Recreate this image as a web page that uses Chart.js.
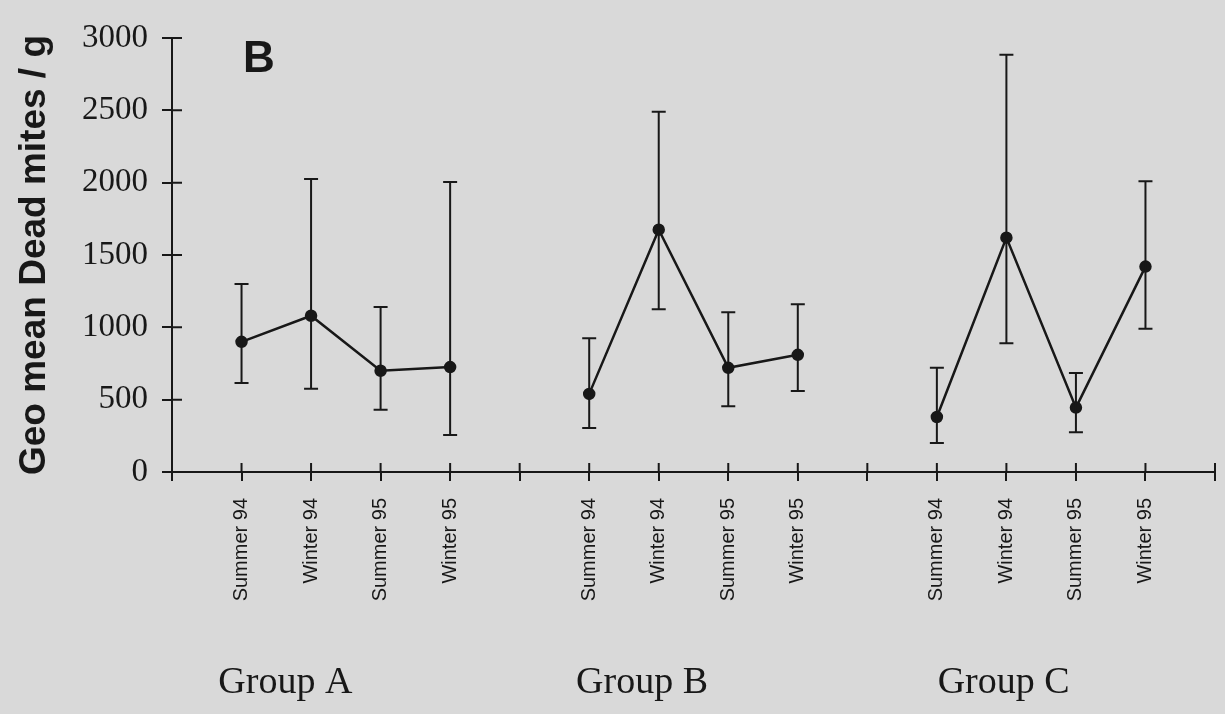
<!DOCTYPE html>
<html>
<head>
<meta charset="utf-8">
<script src="https://cdn.jsdelivr.net/npm/chart.js@4.4.0/dist/chart.umd.min.js"></script>
<style>
  html, body { margin: 0; padding: 0; background: #d9d9d9; }
  #wrap { width: 1225px; height: 714px; }
</style>
</head>
<body>
<div id="wrap"><canvas id="miteChart" width="1225" height="714"></canvas></div>
<script>
// data (geometric mean and error bar ends)
var seasons = ['Summer 94', 'Winter 94', 'Summer 95', 'Winter 95'];
var groups = ['Group A', 'Group B', 'Group C'];
var meanA = [900, 1080, 700, 725];
var lowA = [615, 575, 430, 255];
var highA = [1300, 2025, 1140, 2005];
var meanB = [540, 1675, 720, 810];
var lowB = [305, 1125, 455, 560];
var highB = [925, 2490, 1105, 1160];
var meanC = [380, 1620, 445, 1420];
var lowC = [200, 890, 275, 990];
var highC = [720, 2885, 685, 2010];
var yTicks = [0, 500, 1000, 1500, 2000, 2500, 3000];

var ink = '#181818';

// x slots: axis, 4 seasons, gap, 4 seasons, gap, 4 seasons, end
var labels = [''].concat(seasons, [''], seasons, [''], seasons, ['']);

function place(arr, start) {
    var out = [];
    for (var i = 0; i < labels.length; i++) out.push(null);
    for (var j = 0; j < arr.length; j++) out[start + j] = arr[j];
    return out;
}

var series = [
    { mean: meanA, low: lowA, high: highA, start: 1 },
    { mean: meanB, low: lowB, high: highB, start: 6 },
    { mean: meanC, low: lowC, high: highC, start: 11 }
];

var datasets = series.map(function (s, k) {
    return {
        label: groups[k],
        data: place(s.mean, s.start),
        low: place(s.low, s.start),
        high: place(s.high, s.start),
        borderColor: ink,
        backgroundColor: ink,
        borderWidth: 2.5,
        pointRadius: 5,
        pointStyle: 'circle',
        pointBackgroundColor: ink,
        pointBorderColor: ink,
        tension: 0,
        spanGaps: false
    };
});

var paperPlugin = {
    id: 'paper',
    beforeDraw: function (chart) {
        var ctx = chart.ctx;
        ctx.save();
        ctx.fillStyle = '#d9d9d9';
        ctx.fillRect(0, 0, chart.width, chart.height);
        ctx.restore();
    }
};

var errorBarPlugin = {
    id: 'errorBars',
    afterDatasetsDraw: function (chart) {
        var ctx = chart.ctx;
        var x = chart.scales.x, y = chart.scales.y;
        ctx.save();
        ctx.strokeStyle = ink;
        ctx.lineWidth = 2;
        chart.data.datasets.forEach(function (ds) {
            for (var i = 0; i < ds.data.length; i++) {
                if (ds.data[i] === null) continue;
                var px = x.getPixelForValue(i);
                var top = y.getPixelForValue(ds.high[i]);
                var bot = y.getPixelForValue(ds.low[i]);
                ctx.beginPath();
                ctx.moveTo(px, top); ctx.lineTo(px, bot);
                ctx.moveTo(px - 7, top); ctx.lineTo(px + 7, top);
                ctx.moveTo(px - 7, bot); ctx.lineTo(px + 7, bot);
                ctx.stroke();
            }
        });
        ctx.restore();
    }
};

var decorPlugin = {
    id: 'decor',
    afterDraw: function (chart) {
        var ctx = chart.ctx;
        var x = chart.scales.x, y = chart.scales.y;
        var area = chart.chartArea;
        ctx.save();
        // inner half of the crossing tick marks
        ctx.strokeStyle = ink;
        ctx.lineWidth = 2;
        ctx.beginPath();
        for (var i = 1; i < labels.length; i++) {
            var px = x.getPixelForValue(i);
            ctx.moveTo(px, area.bottom); ctx.lineTo(px, area.bottom - 9);
        }
        yTicks.forEach(function (v) {
            var py = y.getPixelForValue(v);
            ctx.moveTo(area.left, py); ctx.lineTo(area.left + 10, py);
        });
        ctx.stroke();

        // panel letter
        ctx.fillStyle = ink;
        ctx.font = 'bold 44px "Liberation Sans", Arial, sans-serif';
        ctx.textAlign = 'left';
        ctx.textBaseline = 'alphabetic';
        ctx.fillText('B', 243, 72);

        // group names under the season labels
        var groupPos = [1.63, 6.76, 11.96];
        ctx.font = '38px "Liberation Serif", "Times New Roman", serif';
        ctx.textAlign = 'center';
        groups.forEach(function (g, k) {
            ctx.fillText(g, x.getPixelForValue(groupPos[k]), 693);
        });
        ctx.restore();
    }
};

var ctx = document.getElementById('miteChart').getContext('2d');
var miteChart = new Chart(ctx, {
    type: 'line',
    data: {
        labels: labels,
        datasets: datasets
    },
    plugins: [paperPlugin, errorBarPlugin, decorPlugin],
    options: {
        responsive: false,
        animation: false,
        layout: {
            padding: { top: 38, right: 10, bottom: 0, left: 0 }
        },
        plugins: {
            legend: { display: false },
            tooltip: { enabled: false }
        },
        scales: {
            x: {
                type: 'category',
                offset: false,
                afterFit: function (s) {
                    s.height = 242;
                    s.paddingLeft = 0;
                    s.paddingRight = 0;
                },
                grid: {
                    display: true,
                    drawOnChartArea: false,
                    drawTicks: true,
                    tickLength: 9,
                    color: ink,
                    lineWidth: 2
                },
                border: { display: true, color: ink, width: 2 },
                ticks: {
                    autoSkip: false,
                    minRotation: 90,
                    maxRotation: 90,
                    padding: 17,
                    color: ink,
                    font: { family: '"Liberation Sans", Arial, sans-serif', size: 20 }
                }
            },
            y: {
                min: 0,
                max: 3000,
                afterFit: function (s) {
                    s.width = 172;
                    s.paddingTop = 0;
                    s.paddingBottom = 0;
                },
                afterBuildTicks: function (s) {
                    s.ticks = yTicks.map(function (v) { return { value: v }; });
                },
                grid: {
                    display: true,
                    drawOnChartArea: false,
                    drawTicks: true,
                    tickLength: 10,
                    color: ink,
                    lineWidth: 2
                },
                border: { display: true, color: ink, width: 2 },
                ticks: {
                    padding: 14,
                    color: ink,
                    font: { family: '"Liberation Serif", "Times New Roman", serif', size: 33 },
                    callback: function (v) { return String(v); }
                },
                title: {
                    display: true,
                    text: 'Geo mean Dead mites / g',
                    color: ink,
                    padding: { top: 13, bottom: 0 },
                    font: { family: '"Liberation Sans", Arial, sans-serif', size: 37, weight: 'bold' }
                }
            }
        }
    }
});
</script>
</body>
</html>
